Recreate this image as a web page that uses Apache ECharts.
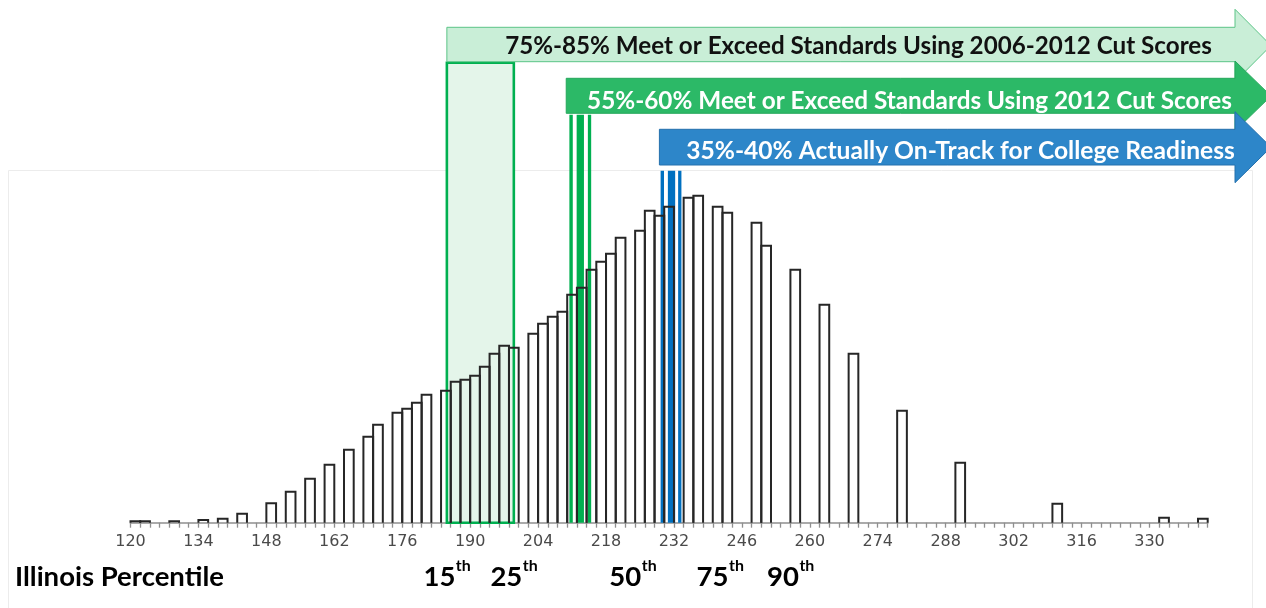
<!DOCTYPE html>
<html>
<head>
<meta charset="utf-8">
<script src="https://cdn.jsdelivr.net/npm/echarts@6/dist/echarts.min.js"></script>
<style>
  html, body { margin: 0; padding: 0; background: #ffffff; }
  #chart { width: 1266px; height: 608px; }
</style>
</head>
<body>
<div id="chart"></div>
<script>
// Score bins (start of each 2-point bin) and number of students in each bin
const binStart = [
  120, 122, 124, 126, 128, 130, 132, 134, 136, 138,
  140, 142, 144, 146, 148, 150, 152, 154, 156, 158,
  160, 162, 164, 166, 168, 170, 172, 174, 176, 178,
  180, 182, 184, 186, 188, 190, 192, 194, 196, 198,
  200, 202, 204, 206, 208, 210, 212, 214, 216, 218,
  220, 222, 224, 226, 228, 230, 232, 234, 236, 238,
  240, 242, 244, 246, 248, 250, 252, 254, 256, 258,
  260, 262, 264, 266, 268, 270, 272, 274, 276, 278,
  280, 282, 284, 286, 288, 290, 292, 294, 296, 298,
  300, 302, 304, 306, 308, 310, 312, 314, 316, 318,
  320, 322, 324, 326, 328, 330, 332, 334, 336, 338,
  340
];
const counts = [
  1.5, 1.5, 0, 0, 1.5, 0, 0, 2.7, 0, 4,
  0, 9, 0, 0, 19.5, 0, 31, 0, 44, 0,
  58, 0, 73, 0, 86, 98, 0, 110, 114, 120,
  128, 0, 132, 141, 143, 147, 156, 169, 177, 175,
  0, 189, 199, 206, 211, 228, 235, 253, 261, 269,
  285, 0, 292, 312, 307, 316, 0, 325, 327, 0,
  316, 310, 0, 0, 300, 277, 0, 0, 253, 0,
  0, 218, 0, 0, 169, 0, 0, 0, 0, 112,
  0, 0, 0, 0, 0, 60, 0, 0, 0, 0,
  0, 0, 0, 0, 0, 19, 0, 0, 0, 0,
  0, 0, 0, 0, 0, 0, 5, 0, 0, 0,
  4
];
const BIN_WIDTH = 2;
const scoreMin = 120;
const scoreMax = 342;
const labelStep = 14;

// 15th-25th percentile score band
const percentileBand = [185.2, 199];
const bandTop = 460;
// Cut-score ranges
const greenCuts = [210.8, 212.7, 214.6];
const greenTop = 408;
const blueCuts = [229.6, 231.5, 233.2];
const blueTop = 352;

// Arrow banners: where each starts on the score axis, and its text
const arrowStarts = [185.2, 209.8, 229.0];
const arrowTexts = [
  '75%-85% Meet or Exceed Standards Using 2006-2012 Cut Scores',
  '55%-60% Meet or Exceed Standards Using 2012 Cut Scores',
  '35%-40% Actually On-Track for College Readiness'
];

// Illinois percentile markers along the score axis
const percentileNames = ['15', '25', '50', '75', '90'];
const percentileScores = [185.2, 199, 223.5, 241.5, 256];

const chart = echarts.init(document.getElementById('chart'), null, { renderer: 'canvas' });

const cutWidths = [3.4, 7.3, 3.3];

function cutSeries(name, xs, top, color) {
  return {
    name: name,
    type: 'custom',
    silent: true,
    data: xs.map((x, i) => [x, top, i]),
    encode: { x: 0, y: 1 },
    renderItem: function (params, api) {
      const x = api.value(0);
      const pTop = api.coord([x, api.value(1)]);
      const pBot = api.coord([x, 0]);
      const w = cutWidths[api.value(2)];
      return {
        type: 'rect',
        shape: { x: pTop[0] - w / 2, y: pTop[1], width: w, height: pBot[1] - pTop[1] },
        style: { fill: color }
      };
    }
  };
}

const option = {
  backgroundColor: '#ffffff',
  animation: false,
  grid: { left: 130.5, right: 58.3, top: 22.7, bottom: 85.3 },
  xAxis: {
    type: 'value',
    min: scoreMin,
    max: scoreMax,
    interval: BIN_WIDTH,
    splitLine: { show: false },
    axisLine: { show: true, lineStyle: { color: '#8f8f8f', width: 1.7 } },
    axisTick: { show: true, length: 5, lineStyle: { color: '#8f8f8f', width: 1.3 } },
    axisLabel: {
      margin: 11,
      color: '#4a4a4a',
      fontFamily: 'DejaVu Sans',
      fontSize: 16,
      formatter: function (v) {
        return ((v - scoreMin) % labelStep === 0 && v <= 330) ? String(v) : '';
      }
    }
  },
  yAxis: { type: 'value', min: 0, max: 500, show: false },
  series: [
    {
      name: 'band',
      type: 'custom',
      silent: true,
      data: [[percentileBand[0], percentileBand[1], bandTop]],
      encode: { x: [0, 1], y: 2 },
      renderItem: function (params, api) {
        const p0 = api.coord([api.value(0), api.value(2)]);
        const p1 = api.coord([api.value(1), 0]);
        return {
          type: 'rect',
          shape: { x: p0[0], y: p0[1], width: p1[0] - p0[0], height: p1[1] - p0[1] },
          style: { fill: '#e4f5ea', stroke: '#00b050', lineWidth: 2.6 }
        };
      }
    },
    cutSeries('green cuts', greenCuts, greenTop, '#00b050'),
    cutSeries('blue cuts', blueCuts, blueTop, '#0070c0'),
    {
      name: 'students',
      type: 'custom',
      data: binStart.map((s, i) => [s, counts[i]]),
      encode: { x: 0, y: 1 },
      renderItem: function (params, api) {
        const v = api.value(1);
        if (!v) return null;
        const s = api.value(0);
        const pTop = api.coord([s, v]);
        const pEnd = api.coord([s + BIN_WIDTH, 0]);
        return {
          type: 'polyline',
          shape: { points: [[pTop[0], pEnd[1]], [pTop[0], pTop[1]], [pEnd[0], pTop[1]], [pEnd[0], pEnd[1]]] },
          style: { fill: null, stroke: '#262626', lineWidth: 2 }
        };
      }
    }
  ]
};
chart.setOption(option);

// Text sizing helper
const measureCtx = document.createElement('canvas').getContext('2d');
function textWidth(text, size, family) {
  measureCtx.font = 'bold ' + size + 'px ' + family;
  return measureCtx.measureText(text).width;
}
function fitSize(text, family, width) {
  return 100 * width / textWidth(text, 100, family);
}

const FONT = 'Lato';
const bodyEnd = 1235;
const tipX = 1271;
const arrows = [
  { top: 27.3, bottom: 61.7, headTop: 9.3, headBottom: 81.7, fill: '#c9eed7', stroke: '#5cc487',
    textColor: '#111111', textCenter: 858.5, textWidth: 707, textY: 46 },
  { top: 78.3, bottom: 113.3, headTop: 61, headBottom: 131, fill: '#2cb967', stroke: '#25a85b',
    textColor: '#ffffff', textCenter: 909.5, textWidth: 645, textY: 101 },
  { top: 129.3, bottom: 165, headTop: 111.7, headBottom: 182.7, fill: '#2d86c9', stroke: '#2470ad',
    textColor: '#ffffff', textCenter: 960.5, textWidth: 549, textY: 151.5 }
];

const graphics = [];
// Light chart frame
graphics.push({
  type: 'rect', z: 0, silent: true,
  shape: { x: 8.5, y: 170.5, width: 1244, height: 460 },
  style: { fill: null, stroke: '#ececec', lineWidth: 1 }
});

arrows.forEach(function (a, i) {
  const xs = chart.convertToPixel({ xAxisIndex: 0 }, arrowStarts[i]);
  const mid = (a.headTop + a.headBottom) / 2;
  graphics.push({
    type: 'polygon', z: 10 + i, silent: true,
    shape: { points: [[xs, a.top], [bodyEnd, a.top], [bodyEnd, a.headTop], [tipX, mid],
                      [bodyEnd, a.headBottom], [bodyEnd, a.bottom], [xs, a.bottom]] },
    style: { fill: a.fill, stroke: a.stroke, lineWidth: 1 }
  });
  graphics.push({
    type: 'text', z: 20 + i, silent: true,
    x: a.textCenter, y: a.textY,
    style: {
      text: arrowTexts[i], fill: a.textColor,
      font: 'bold ' + fitSize(arrowTexts[i], FONT, a.textWidth).toFixed(2) + 'px ' + FONT,
      align: 'center', verticalAlign: 'middle'
    }
  });
});

// Axis caption and percentile markers
const captionText = 'Illinois Percentile';
const bigSize = fitSize(captionText, FONT, 209);
graphics.push({
  type: 'text', silent: true, x: 15, y: 577,
  style: { text: captionText, fill: '#000000', font: 'bold ' + bigSize.toFixed(2) + 'px ' + FONT,
           align: 'left', verticalAlign: 'middle' }
});
const supSize = bigSize * 0.58;
percentileNames.forEach(function (name, i) {
  const cx = chart.convertToPixel({ xAxisIndex: 0 }, percentileScores[i]);
  const wNum = textWidth(name, bigSize, FONT);
  const wSup = textWidth('th', supSize, FONT);
  const left = cx - (wNum + wSup) / 2;
  graphics.push({
    type: 'text', silent: true, x: left, y: 577,
    style: { text: name, fill: '#000000', font: 'bold ' + bigSize.toFixed(2) + 'px ' + FONT,
             align: 'left', verticalAlign: 'middle' }
  });
  graphics.push({
    type: 'text', silent: true, x: left + wNum + 0.5, y: 566,
    style: { text: 'th', fill: '#000000', font: 'bold ' + supSize.toFixed(2) + 'px ' + FONT,
             align: 'left', verticalAlign: 'middle' }
  });
});

chart.setOption({ graphic: graphics });
</script>
</body>
</html>
